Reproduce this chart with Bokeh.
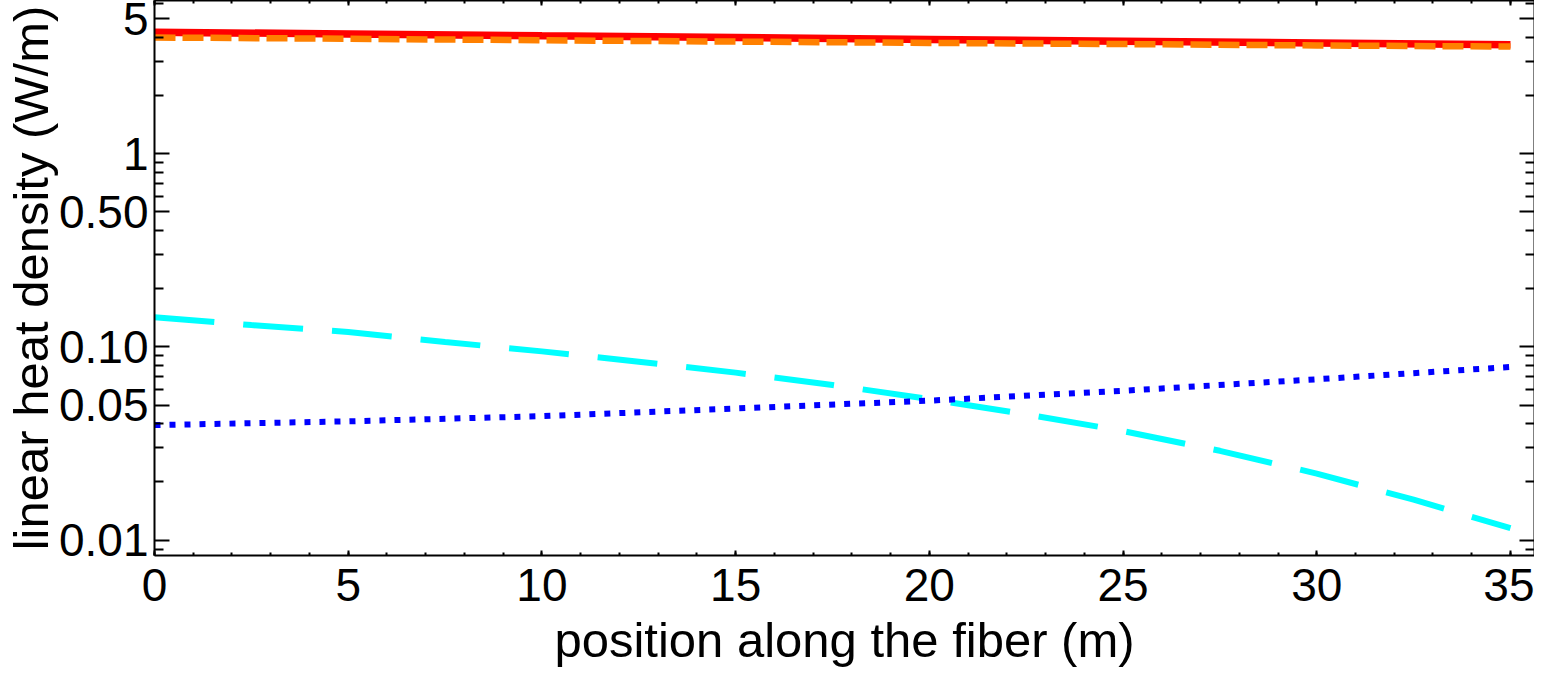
from bokeh.plotting import figure
from bokeh.models import (Range1d, LinearAxis, LogAxis, FixedTicker,
                          CustomJSTickFormatter, LogScale)
from bokeh.embed import file_html
from bokeh.resources import INLINE

# ---- data ----
x_pos = [0, 5, 10, 15, 20, 25, 30, 35]
red_total = [4.25, 4.16, 4.07, 3.99, 3.90, 3.82, 3.74, 3.66]
orange_part = [3.99, 3.93, 3.86, 3.80, 3.74, 3.69, 3.63, 3.58]

x_fine = [0, 2.5, 5, 7.5, 10, 12.5, 15, 17.5, 20, 22.5, 25, 27.5, 30, 32.5, 35]
cyan_part = [0.1425, 0.1297, 0.1194, 0.1061, 0.0948, 0.0838, 0.0736, 0.0635,
             0.0537, 0.0448, 0.0367, 0.0290, 0.0221, 0.0162, 0.01153]

blue_part = [0.0394, 0.0412, 0.0438, 0.0480, 0.0527, 0.0593, 0.0680, 0.0787]

x_major = [0, 5, 10, 15, 20, 25, 30, 35]
x_minor = list(range(0, 37))
y_major = [0.01, 0.05, 0.1, 0.5, 1, 5]
y_major_labels = ["0.01", "0.05", "0.10", "0.50", "1", "5"]
y_minor = [0.009, 0.02, 0.03, 0.04, 0.06, 0.07, 0.08, 0.09,
           0.2, 0.3, 0.4, 0.6, 0.7, 0.8, 0.9, 2, 3, 4, 6]

x_label = "position along the fiber (m)"
y_label = "linear heat density (W/m)"

FONT = "Liberation Sans"

p = figure(width=1534, height=669, output_backend="svg", toolbar_location=None,
           x_axis_type=None, y_axis_type=None,
           x_range=Range1d(0, 35.62), y_range=Range1d(0.00833, 6.20),
           min_border_left=145, min_border_right=0, min_border_top=0,
           min_border_bottom=109)
p.y_scale = LogScale()
p.outline_line_color = None
p.xgrid.visible = False
p.ygrid.visible = False
p.background_fill_color = "white"
p.border_fill_color = "white"

xt = FixedTicker(ticks=x_major, minor_ticks=x_minor)
yt = FixedTicker(ticks=y_major, minor_ticks=y_minor)
blank = CustomJSTickFormatter(code="return '';")


def style(ax, xaxis):
    ax.axis_line_width = 2
    ax.axis_line_color = "black"
    ax.major_tick_line_width = 2
    ax.minor_tick_line_width = 2
    ax.major_tick_out = 0
    ax.minor_tick_out = 0
    if xaxis:
        ax.major_tick_in = 5
        ax.minor_tick_in = 3
    else:
        ax.major_tick_in = 15
        ax.minor_tick_in = 9
    ax.major_label_text_font = FONT
    ax.major_label_text_font_size = "46px"
    ax.major_label_text_color = "black"
    ax.axis_label_text_font = FONT
    ax.axis_label_text_font_size = "49px"
    ax.axis_label_text_font_style = "normal"
    ax.axis_label_text_color = "black"


def blank_axis(ax):
    ax.major_label_standoff = 0
    ax.major_label_text_font_size = "0px"
    ax.axis_label_standoff = 0
    ax.axis_label_text_font_size = "0px"


xb = LinearAxis(ticker=xt, axis_label=x_label)
style(xb, True)
xb.major_label_standoff = 13
xb.axis_label_standoff = 9
p.add_layout(xb, "below")

xa = LinearAxis(ticker=xt, formatter=blank)
style(xa, True)
blank_axis(xa)
p.add_layout(xa, "above")

yl = LogAxis(ticker=yt, axis_label=y_label,
             major_label_overrides=dict(zip(y_major, y_major_labels)))
style(yl, False)
yl.major_label_standoff = 6
yl.axis_label_standoff = -2
p.add_layout(yl, "left")

yr = LogAxis(ticker=yt, formatter=blank)
style(yr, False)
blank_axis(yr)
p.add_layout(yr, "right")

p.line(x_pos, red_total, line_color="#FF0000", line_width=7.5)
p.line(x_pos, orange_part, line_color="#FF8000", line_width=6.5,
       line_dash="21 7")
p.line(x_fine, cyan_part, line_color="#00FFFF", line_width=6,
       line_dash="60 29")
p.line(x_pos, blue_part, line_color="#0000FF", line_width=6,
       line_dash="6 9")

open("out.html", "w").write(file_html(p, INLINE))
